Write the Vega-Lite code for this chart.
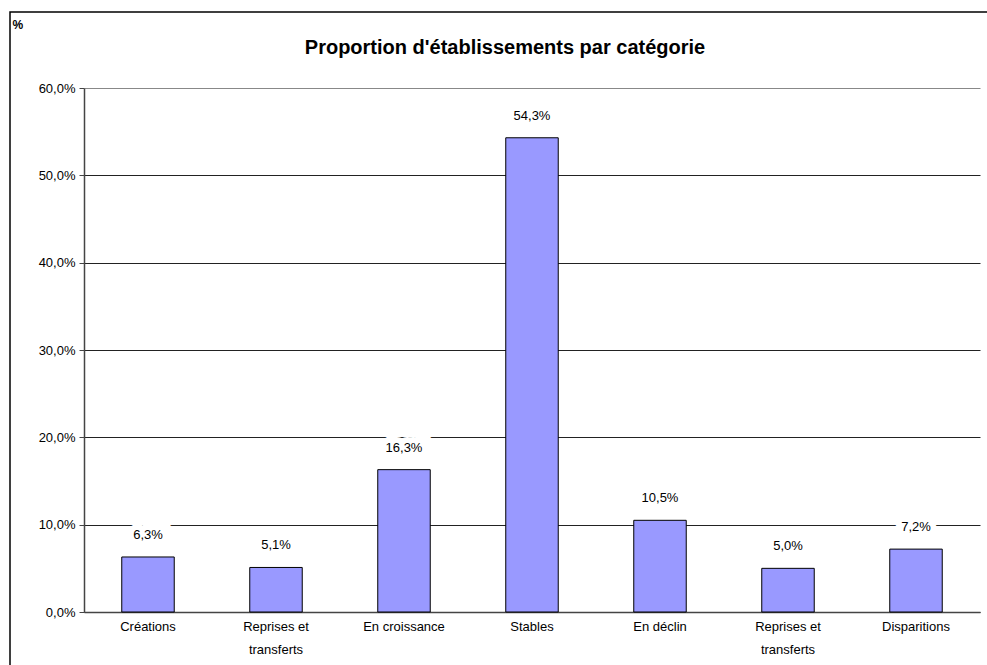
{
  "$schema": "https://vega.github.io/schema/vega-lite/v6.json",
  "autosize": "none",
  "padding": {"left": 10, "top": 12, "right": 0, "bottom": 0},
  "width": 990,
  "height": 660,
  "background": "white",
  "config": {"view": {"stroke": "black", "strokeWidth": 1.5}, "font": "Liberation Sans"},
  "title": {
    "text": "Proportion d'établissements par catégorie",
    "fontSize": 20,
    "fontWeight": "bold",
    "color": "black",
    "anchor": "middle",
    "frame": "group",
    "baseline": "alphabetic",
    "offset": -62
  },
  "data": {
    "values": [
      {"categorie": "Créations", "valeur": 6.3},
      {"categorie": "Reprises et transferts", "valeur": 5.1},
      {"categorie": "En croissance", "valeur": 16.3},
      {"categorie": "Stables", "valeur": 54.3},
      {"categorie": "En déclin", "valeur": 10.5},
      {"categorie": "Reprises et transferts ", "valeur": 5.0},
      {"categorie": "Disparitions", "valeur": 7.2}
    ]
  },
  "layer": [
    {
      "mark": {"type": "bar", "fill": "#9999FF", "stroke": "black", "strokeWidth": 1},
      "encoding": {
        "x": {
          "field": "categorie",
          "type": "nominal",
          "sort": null,
          "scale": {"range": [74, 970], "paddingInner": 0.59, "paddingOuter": 0.295},
          "axis": {
            "title": null,
            "offset": -60,
            "labelAngle": 0,
            "labelFontSize": 13,
            "labelColor": "black",
            "labelPadding": 8,
            "labelLineHeight": 23,
            "labelExpr": "indexof(datum.value, 'Reprises') >= 0 ? ['Reprises et', 'transferts'] : datum.value",
            "domainColor": "#444444",
            "domainWidth": 1.5,
            "ticks": false
          }
        },
        "y": {
          "field": "valeur",
          "type": "quantitative",
          "scale": {"domain": [0, 60], "range": [600, 76]},
          "axis": {
            "title": "%",
            "titleAngle": 0,
            "titleX": -72,
            "titleY": 16,
            "titleAlign": "left",
            "titleBaseline": "alphabetic",
            "titleFontSize": 12,
            "titleFontWeight": "bold",
            "titleColor": "black",
            "offset": -74,
            "tickCount": 6,
            "labelExpr": "replace(format(datum.value, '.1f'), '.', ',') + '%'",
            "labelFontSize": 13,
            "labelColor": "black",
            "labelPadding": 4,
            "domainColor": "#444444",
            "domainWidth": 1.5,
            "tickColor": "#444444",
            "tickSize": 5,
            "grid": true,
            "gridColor": {"condition": {"test": "datum.value == 60", "value": "#888888"}, "value": "#222222"},
            "gridWidth": 1
          }
        }
      }
    },
    {
      "transform": [{"calculate": "replace(format(datum.valeur, '.1f'), '.', ',') + '%'", "as": "etiquette"}],
      "mark": {"type": "text", "baseline": "alphabetic", "dy": -18, "fontSize": 13, "color": "white", "stroke": "white", "strokeWidth": 12},
      "encoding": {
        "x": {"field": "categorie", "type": "nominal", "sort": null},
        "y": {"field": "valeur", "type": "quantitative"},
        "text": {"field": "etiquette", "type": "nominal"}
      }
    },
    {
      "transform": [{"calculate": "replace(format(datum.valeur, '.1f'), '.', ',') + '%'", "as": "etiquette"}],
      "mark": {"type": "text", "baseline": "alphabetic", "dy": -18, "fontSize": 13, "color": "black"},
      "encoding": {
        "x": {"field": "categorie", "type": "nominal", "sort": null},
        "y": {"field": "valeur", "type": "quantitative"},
        "text": {"field": "etiquette", "type": "nominal"}
      }
    }
  ]
}
